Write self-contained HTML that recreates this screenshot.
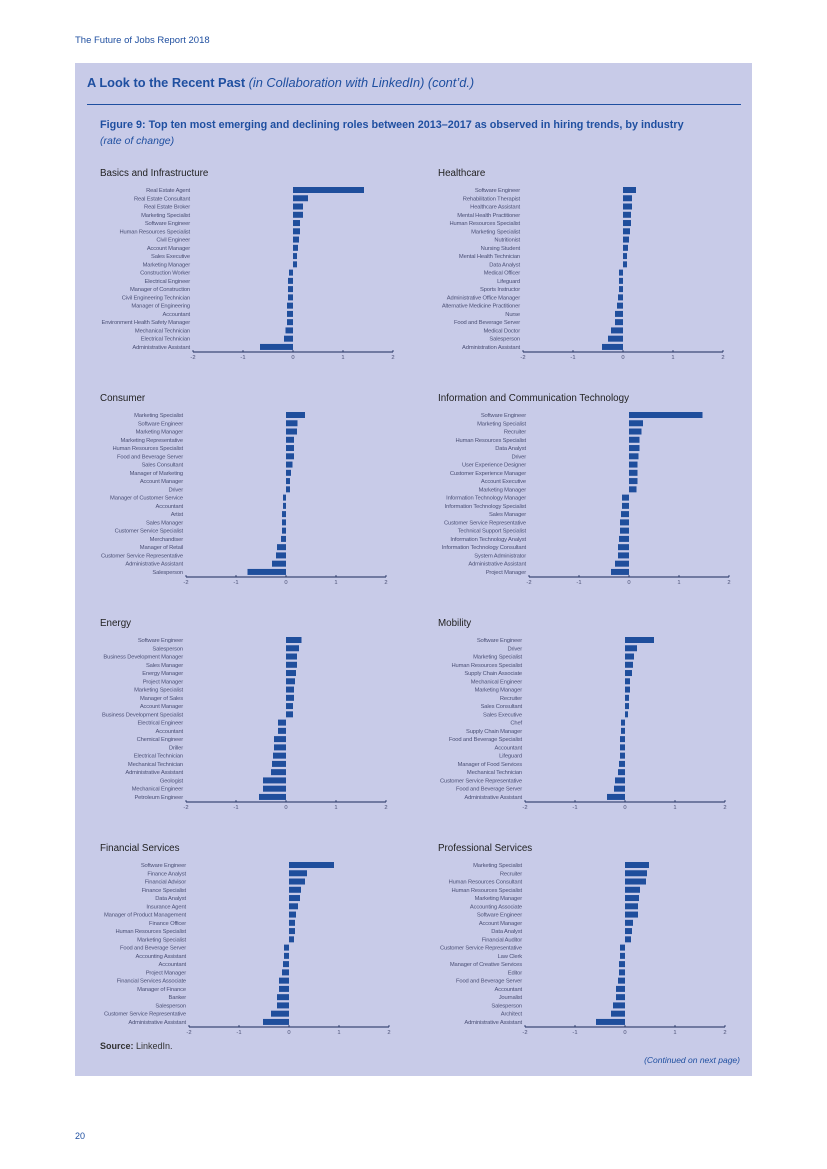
<!DOCTYPE html>
<html><head><meta charset="utf-8"><style>
html,body{margin:0;padding:0;background:#fff;}
body{width:827px;height:1169px;position:relative;overflow:hidden;font-family:"Liberation Sans",sans-serif;}
.hdr{position:absolute;left:75px;top:35px;font-size:9.5px;color:#1f4fa0;}
.panel{position:absolute;left:75px;top:63px;width:677px;height:1013px;background:#c8cbe8;}
.ttl{position:absolute;left:87px;top:75px;font-size:12.8px;font-weight:bold;color:#1f4fa0;}
.ttl i{font-weight:normal;}
.rule{position:absolute;left:87px;top:104px;width:654px;height:1px;background:#1f4fa0;}
.ftl{position:absolute;left:100px;top:119px;font-size:10.8px;font-weight:bold;color:#1f4fa0;}
.fsub{position:absolute;left:100px;top:135px;font-size:10.5px;font-style:italic;color:#1f4fa0;}
.src{position:absolute;left:100px;top:1041px;font-size:9px;color:#333;}
.cont{position:absolute;right:87px;top:1055px;font-size:8.5px;font-style:italic;color:#1f4fa0;}
.pg{position:absolute;left:75px;top:1131px;font-size:9px;color:#1f4fa0;}
svg{position:absolute;left:0;top:0;}
</style></head><body>
<div class="hdr">The Future of Jobs Report 2018</div>
<div class="panel"></div>
<div class="ttl">A Look to the Recent Past <i>(in Collaboration with LinkedIn) (cont’d.)</i></div>
<div class="rule"></div>
<div class="ftl">Figure 9: Top ten most emerging and declining roles between 2013–2017 as observed in hiring trends, by industry</div>
<div class="fsub">(rate of change)</div>
<div class="src"><b>Source:</b> LinkedIn.</div>
<div class="cont">(Continued on next page)</div>
<div class="pg">20</div>
<svg id="charts" width="827" height="1169"></svg>
<script>
const tickLabels = ["-2","-1","0","1","2"];
const tickValues = [-2,-1,0,1,2];
const titles = ["Basics and Infrastructure","Healthcare","Consumer","Information and Communication Technology","Energy","Mobility","Financial Services","Professional Services"];
const basicsRoles = ["Real Estate Agent","Real Estate Consultant","Real Estate Broker","Marketing Specialist","Software Engineer","Human Resources Specialist","Civil Engineer","Account Manager","Sales Executive","Marketing Manager","Construction Worker","Electrical Engineer","Manager of Construction","Civil Engineering Technician","Manager of Engineering","Accountant","Environment Health Safety Manager","Mechanical Technician","Electrical Technician","Administrative Assistant"];
const basicsValues = [1.42,0.3,0.2,0.2,0.14,0.14,0.12,0.1,0.08,0.08,-0.08,-0.1,-0.1,-0.1,-0.12,-0.12,-0.12,-0.15,-0.18,-0.66];
const healthRoles = ["Software Engineer","Rehabilitation Therapist","Healthcare Assistant","Mental Health Practitioner","Human Resources Specialist","Marketing Specialist","Nutritionist","Nursing Student","Mental Health Technician","Data Analyst","Medical Officer","Lifeguard","Sports Instructor","Administrative Office Manager","Alternative Medicine Practitioner","Nurse","Food and Beverage Server","Medical Doctor","Salesperson","Administration Assistant"];
const healthValues = [0.26,0.18,0.18,0.16,0.16,0.14,0.12,0.1,0.08,0.08,-0.08,-0.08,-0.08,-0.1,-0.12,-0.16,-0.16,-0.24,-0.3,-0.42];
const consumerRoles = ["Marketing Specialist","Software Engineer","Marketing Manager","Marketing Representative","Human Resources Specialist","Food and Beverage Server","Sales Consultant","Manager of Marketing","Account Manager","Driver","Manager of Customer Service","Accountant","Artist","Sales Manager","Customer Service Specialist","Merchandiser","Manager of Retail","Customer Service Representative","Administrative Assistant","Salesperson"];
const consumerValues = [0.38,0.23,0.22,0.16,0.16,0.16,0.13,0.1,0.08,0.08,-0.06,-0.06,-0.08,-0.08,-0.08,-0.1,-0.18,-0.2,-0.28,-0.77];
const ictRoles = ["Software Engineer","Marketing Specialist","Recruiter","Human Resources Specialist","Data Analyst","Driver","User Experience Designer","Customer Experience Manager","Account Executive","Marketing Manager","Information Technology Manager","Information Technology Specialist","Sales Manager","Customer Service Representative","Technical Support Specialist","Information Technology Analyst","Information Technology Consultant","System Administrator","Administrative Assistant","Project Manager"];
const ictValues = [1.47,0.28,0.25,0.21,0.21,0.19,0.17,0.17,0.17,0.15,-0.14,-0.14,-0.16,-0.18,-0.18,-0.2,-0.22,-0.22,-0.28,-0.36];
const energyRoles = ["Software Engineer","Salesperson","Business Development Manager","Sales Manager","Energy Manager","Project Manager","Marketing Specialist","Manager of Sales","Account Manager","Business Development Specialist","Electrical Engineer","Accountant","Chemical Engineer","Driller","Electrical Technician","Mechanical Technician","Administrative Assistant","Geologist","Mechanical Engineer","Petroleum Engineer"];
const energyValues = [0.31,0.26,0.22,0.22,0.2,0.18,0.16,0.16,0.14,0.14,-0.16,-0.16,-0.24,-0.24,-0.26,-0.28,-0.3,-0.46,-0.46,-0.54];
const mobilityRoles = ["Software Engineer","Driver","Marketing Specialist","Human Resources Specialist","Supply Chain Associate","Mechanical Engineer","Marketing Manager","Recruiter","Sales Consultant","Sales Executive","Chef","Supply Chain Manager","Food and Beverage Specialist","Accountant","Lifeguard","Manager of Food Services","Mechanical Technician","Customer Service Representative","Food and Beverage Server","Administrative Assistant"];
const mobilityValues = [0.58,0.24,0.18,0.16,0.14,0.1,0.1,0.08,0.08,0.06,-0.08,-0.08,-0.1,-0.1,-0.1,-0.12,-0.14,-0.2,-0.22,-0.36];
const financeRoles = ["Software Engineer","Finance Analyst","Financial Advisor","Finance Specialist","Data Analyst","Insurance Agent","Manager of Product Management","Finance Officer","Human Resources Specialist","Marketing Specialist","Food and Beverage Server","Accounting Assistant","Accountant","Project Manager","Financial Services Associate","Manager of Finance","Banker","Salesperson","Customer Service Representative","Administrative Assistant"];
const financeValues = [0.9,0.36,0.32,0.24,0.22,0.18,0.14,0.12,0.12,0.1,-0.1,-0.1,-0.12,-0.14,-0.2,-0.2,-0.24,-0.24,-0.36,-0.52];
const profRoles = ["Marketing Specialist","Recruiter","Human Resources Consultant","Human Resources Specialist","Marketing Manager","Accounting Associate","Software Engineer","Account Manager","Data Analyst","Financial Auditor","Customer Service Representative","Law Clerk","Manager of Creative Services","Editor","Food and Beverage Server","Accountant","Journalist","Salesperson","Architect","Administrative Assistant"];
const profValues = [0.48,0.44,0.42,0.3,0.28,0.26,0.26,0.16,0.14,0.12,-0.1,-0.1,-0.12,-0.12,-0.14,-0.18,-0.18,-0.24,-0.28,-0.58];

const rolesList = [basicsRoles,healthRoles,consumerRoles,ictRoles,energyRoles,mobilityRoles,financeRoles,profRoles];
const valuesList = [basicsValues,healthValues,consumerValues,ictValues,energyValues,mobilityValues,financeValues,profValues];
const axisStarts = [193,523,186,529,186,525,189,525];
const NS="http://www.w3.org/2000/svg";
const svg=document.getElementById('charts');
function mk(tag,attrs,parent){const e=document.createElementNS(NS,tag);for(const k in attrs)e.setAttribute(k,attrs[k]);(parent||svg).appendChild(e);return e;}
for(let c=0;c<8;c++){
  const col=c%2,row=Math.floor(c/2);
  const top=173+row*225;
  const x0=axisStarts[c];
  const xs=v=>x0+(v+2)*50;
  const firstY=top+17, step=8.26;
  const ys=i=>firstY+i*step;
  const g=mk('g',{});
  
  
  const t=mk('text',{x:col?438:100,y:top+3,'font-size':'9.8','fill':'#222'},g);
  t.textContent=titles[c];
  
  
  const roles=rolesList[c],vals=valuesList[c];
  for(let i=0;i<roles.length;i++){
    const v=vals[i];
    const r=mk('rect',{x:Math.min(xs(0),xs(v)),y:ys(i)-3,width:Math.abs(xs(v)-xs(0)),height:6,fill:'#1f4e9c'},g);
    
    
    const l=mk('text',{x:x0-3,y:ys(i)+2,'font-size':'5.8','fill':'#4b5075','text-anchor':'end','letter-spacing':'-0.15'},g);
    l.textContent=roles[i];
    
    
  }
  const ay=ys(19)+5;
  const ax=mk('line',{x1:xs(-2),x2:xs(2),y1:ay,y2:ay,stroke:'#1a2a5a','stroke-width':'1'},g);
  
  
  for(let k=0;k<tickValues.length;k++){
    mk('line',{x1:xs(tickValues[k]),x2:xs(tickValues[k]),y1:ay-2,y2:ay,stroke:'#1a2a5a','stroke-width':'0.8'},g);
    const tl=mk('text',{x:xs(tickValues[k]),y:ay+7,'font-size':'5.8','fill':'#4b5075','text-anchor':'middle'},g);
    tl.textContent=tickLabels[k];
    
    
  }
}
</script>
</body></html>
